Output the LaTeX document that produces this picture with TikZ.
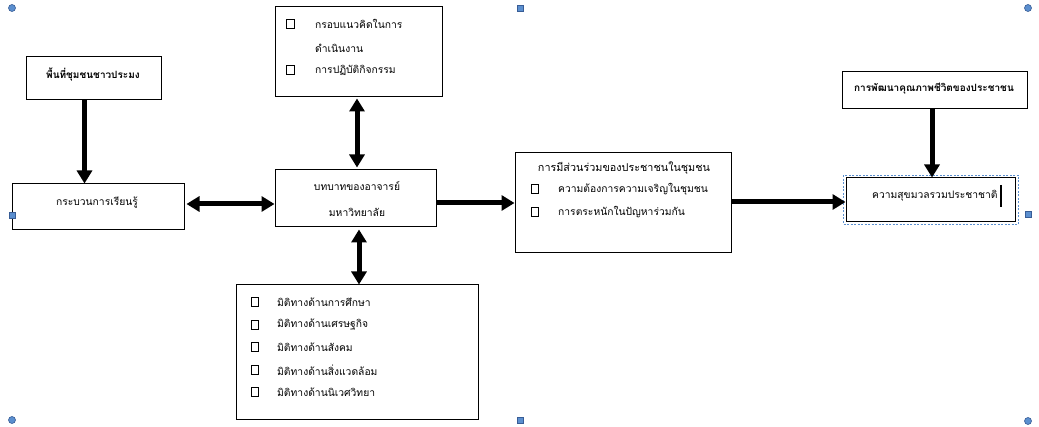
\documentclass[tikz,border=0pt]{standalone}
\usepackage{fontspec}
\newfontfamily\thai[Script=Thai]{Loma}
\usetikzlibrary{arrows.meta,calc}
\definecolor{handlefill}{RGB}{91,143,207}
\definecolor{handledraw}{RGB}{56,93,150}
\begin{document}
\begin{tikzpicture}[x=1pt,y=-1pt,
  box/.style={draw,line width=1pt,inner sep=0pt},
  txt/.style={inner sep=0pt,font=\thai\fontsize{10.3}{12}\selectfont},
  ttl/.style={inner sep=0pt,font=\thai\fontsize{10.8}{12}\selectfont},
  btxt/.style={inner sep=0pt,font=\thai\bfseries\fontsize{10}{12}\selectfont},
  cbox/.style={draw,line width=0.8pt,minimum width=7.5pt,minimum height=8.5pt,inner sep=0pt},
  arr/.style={line width=5pt,-{Triangle[length=13pt,width=15pt]}},
  darr/.style={line width=5pt,{Triangle[length=13pt,width=15pt]}-{Triangle[length=13pt,width=15pt]}},
  hsq/.style={draw=handledraw,fill=handlefill,line width=0.6pt,minimum size=6pt,inner sep=0pt},
  hci/.style={circle,draw=handledraw,fill=handlefill,line width=0.6pt,minimum size=7pt,inner sep=0pt}]
\useasboundingbox (0,0) rectangle (1039,427);
\fill[white] (0,0) rectangle (1039,427);

% boxes
\node[box,minimum width=167pt,minimum height=90pt] (t) at (358.5,52) {};
\node[box,minimum width=135pt,minimum height=43pt] (p) at (93.5,78.5) {};
\node[box,minimum width=172pt,minimum height=46pt] (k) at (98,207) {};
\node[box,minimum width=161pt,minimum height=57pt] (b) at (355.5,198.5) {};
\node[box,minimum width=216pt,minimum height=100pt] (m) at (623,203) {};
\node[box,minimum width=185pt,minimum height=37pt] (d) at (934.5,90.5) {};
\node[box,minimum width=169pt,minimum height=44pt] (h) at (930.5,200) {};
\node[box,minimum width=242pt,minimum height=135pt] (q) at (357,352.5) {};
\draw[handlefill,dashed,dash pattern=on 2pt off 1.5pt,line width=0.7pt] (843.5,175.5) rectangle (1018.5,224.5);

% texts: top box
\node[cbox] (t1c) at (290.5,24) {};
\node[txt,anchor=west] (t1) at (315,24) {กรอบแนวคิดในการ};
\node[txt,anchor=west] (t2) at (315,48) {ดำเนินงาน};
\node[cbox] (t3c) at (290.5,70) {};
\node[txt,anchor=west] (t3) at (315,70) {การปฏิบัติกิจกรรม};

\node[btxt] (pt) at (93,75) {พื้นที่ชุมชนชาวประมง};
\node[txt] (kt) at (97,202) {กระบวนการเรียนรู้};
\node[txt] (bt1) at (357,186) {บทบาทของอาจารย์};
\node[txt] (bt2) at (357,212) {มหาวิทยาลัย};

\node[ttl] (mt) at (624,168) {การมีส่วนร่วมของประชาชนในชุมชน};
\node[cbox] (m1c) at (535,189) {};
\node[txt,anchor=west] (m1) at (558,189) {ความต้องการความเจริญในชุมชน};
\node[cbox] (m2c) at (535,212) {};
\node[txt,anchor=west] (m2) at (558,212) {การตระหนักในปัญหาร่วมกัน};

\node[btxt] (dt) at (934,89) {การพัฒนาคุณภาพชีวิตของประชาชน};
\node[txt,anchor=west] (ht) at (872,196) {ความสุขมวลรวมประชาชาติ};
\draw[line width=2pt] ($(ht.east)+(3,-11)$) -- ($(ht.east)+(3,11)$);

\node[cbox] (q1c) at (255,302) {};
\node[txt,anchor=west] (q1) at (277,302) {มิติทางด้านการศึกษา};
\node[cbox] (q2c) at (255,325) {};
\node[txt,anchor=west] (q2) at (277,325) {มิติทางด้านเศรษฐกิจ};
\node[cbox] (q3c) at (255,347) {};
\node[txt,anchor=west] (q3) at (277,347) {มิติทางด้านสังคม};
\node[cbox] (q4c) at (255,370) {};
\node[txt,anchor=west] (q4) at (277,370) {มิติทางด้านสิ่งแวดล้อม};
\node[cbox] (q5c) at (255,392) {};
\node[txt,anchor=west] (q5) at (277,392) {มิติทางด้านนิเวศวิทยา};

% connectors
\draw[arr] ($(p.south)+(-9,0)$) -- ($(k.north)+(-13.5,0)$);
\draw[darr] ($(k.east)+(2,-3)$) -- ($(b.west)+(0,5.5)$);
\draw[darr] ($(t.south)+(-1.5,1)$) -- ($(b.north)+(1.5,-2)$);
\draw[darr] ($(b.south)+(3.5,2)$) -- ($(q.south)!1!(q.north)+(2,0)$);
\draw[arr] ($(b.east)+(0,4.5)$) -- ($(m.west)+(0,0)$);
\draw[arr] ($(m.east)+(0,-1)$) -- ($(h.west)+(0,2)$);
\draw[arr] ($(d.south)+(-2.5,0)$) -- ($(h.north)+(1.5,0)$);

% selection handles
\node[hci] (hc1) at (12,8) {};
\node[hsq] (hs1) at (520,8) {};
\node[hci] (hc2) at (1028,8) {};
\node[hsq] (hs2) at (12,215) {};
\node[hsq] (hs3) at (1028,214) {};
\node[hci] (hc3) at (12,420) {};
\node[hsq] (hs4) at (520,420) {};
\node[hci] (hc4) at (1028,421) {};
\end{tikzpicture}
\end{document}
